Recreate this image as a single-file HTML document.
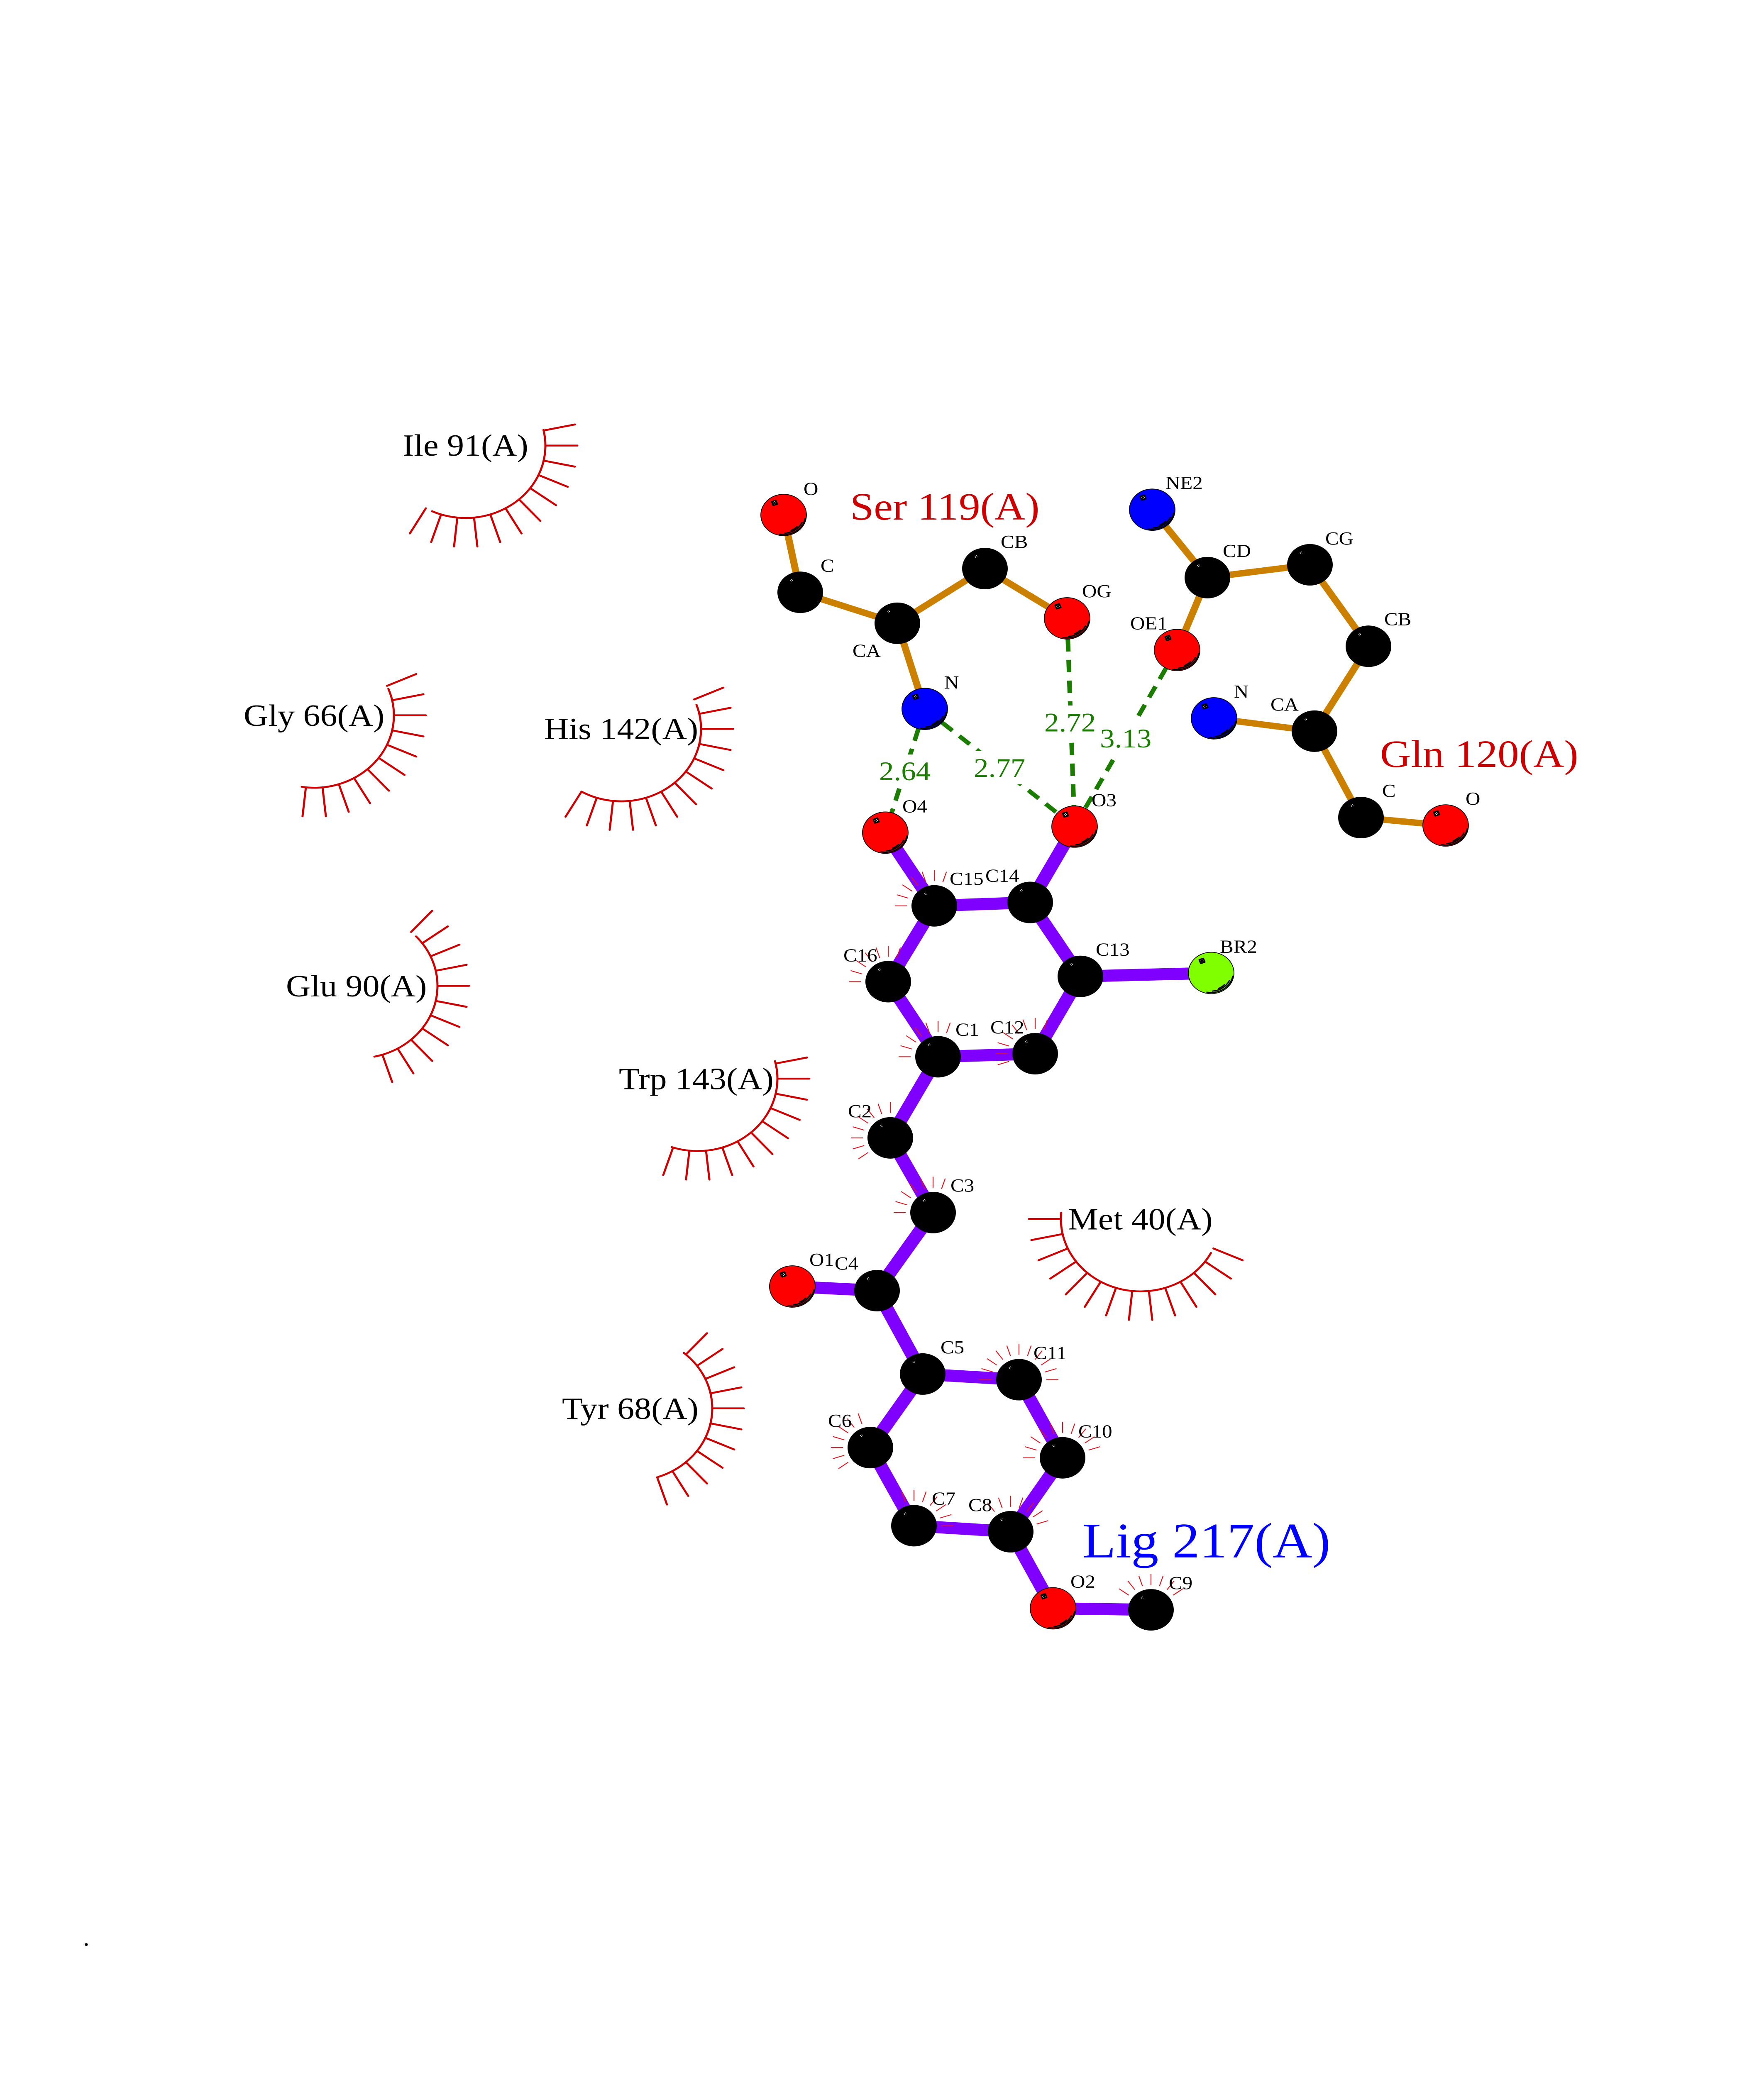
<!DOCTYPE html>
<html><head><meta charset="utf-8"><title>Ligand interaction diagram</title>
<style>
html,body{margin:0;padding:0;background:#fff;width:100%;height:100%;overflow:hidden}
svg{display:block;position:absolute;left:0;top:0;width:100%;height:100%}
text{font-family:"Liberation Serif",serif}
.l{font-size:49px;fill:#000}
.b{font-size:82px;fill:#000}
.r{font-size:103px;fill:#c00}
.g{font-size:71px;fill:#1a7d00}
.h path{stroke:#c00;stroke-width:5;stroke-linecap:round;fill:none}
.h circle{stroke:#c00;stroke-width:5;stroke-linecap:round;fill:none}
.s path{stroke:#e0141e;stroke-width:2.2;fill:none}
.o line{stroke:#cc8000;stroke-width:17}
.p line{stroke:#8000ff;stroke-width:32}
.d line{stroke:#1a7d00;stroke-width:11;stroke-dasharray:33 22}
</style></head>
<body>
<svg xmlns="http://www.w3.org/2000/svg" viewBox="0 0 4250 5500" preserveAspectRatio="none">
<defs>
<g id="hl"><rect x="-7" y="-7" width="14" height="14" rx="2" fill="#000" transform="translate(-22,-32) rotate(-20)"/>
<circle cx="-25" cy="-32" r="1" fill="#fff"/><circle cx="-22" cy="-35" r="1" fill="#fff"/><circle cx="-19" cy="-32" r="1" fill="#fff"/><circle cx="-22" cy="-29" r="1" fill="#fff"/>
<path d="M52 9A52.8 52.8 0 0 1 -10 51M44 20A48.5 48.5 0 0 1 3 48M32 31A45 45 0 0 1 18 41" fill="none" stroke="#000" stroke-width="3.2" stroke-linecap="round"/></g>
<g id="ar"><circle r="55" fill="#f00" stroke="#000" stroke-width="1.8"/><use href="#hl"/></g>
<g id="ab"><circle r="55" fill="#00f" stroke="#000" stroke-width="1.8"/><use href="#hl"/></g>
<g id="ag"><circle r="55" fill="#80ff00" stroke="#000" stroke-width="1.8"/><use href="#hl"/></g>
<g id="ak"><circle r="55" fill="#000"/><circle cx="-23.500" cy="-32" r="1" fill="#fff"/><circle cx="-20.500" cy="-34" r="1" fill="#fff"/><circle cx="-19" cy="-31" r="1" fill="#fff"/><circle cx="-22" cy="-29.500" r="1" fill="#fff"/></g>
</defs>
<rect width="4250" height="5500" fill="#fff"/>

<!-- hydrophobic contacts -->
<g class="h">
<g transform="translate(1122,1181)"><circle r="192" pathLength="360" stroke-dasharray="127.500 360" transform="rotate(-12.500)"/>
<path d="M192 0H269" transform="rotate(-12)"/><path d="M192 0H269"/><path d="M192 0H269" transform="rotate(12)"/><path d="M192 0H269" transform="rotate(24)"/><path d="M192 0H269" transform="rotate(36)"/><path d="M192 0H269" transform="rotate(48)"/><path d="M192 0H269" transform="rotate(60)"/><path d="M192 0H269" transform="rotate(72)"/><path d="M192 0H269" transform="rotate(84)"/><path d="M192 0H269" transform="rotate(96)"/><path d="M192 0H269" transform="rotate(108)"/><path d="M192 0H269" transform="rotate(120)"/></g>

<g transform="translate(757,1896)"><circle r="192" pathLength="360" stroke-dasharray="120.500 360" transform="rotate(-21.500)"/>
<path d="M192 0H269" transform="rotate(-24)"/><path d="M192 0H269" transform="rotate(-12)"/><path d="M192 0H269"/><path d="M192 0H269" transform="rotate(12)"/><path d="M192 0H269" transform="rotate(24)"/><path d="M192 0H269" transform="rotate(36)"/><path d="M192 0H269" transform="rotate(48)"/><path d="M192 0H269" transform="rotate(60)"/><path d="M192 0H269" transform="rotate(72)"/><path d="M192 0H269" transform="rotate(84)"/><path d="M192 0H269" transform="rotate(96)"/></g>

<g transform="translate(1497,1932)"><circle r="192" pathLength="360" stroke-dasharray="139.500 360" transform="rotate(-19.500)"/>
<path d="M192 0H269" transform="rotate(-24)"/><path d="M192 0H269" transform="rotate(-12)"/><path d="M192 0H269"/><path d="M192 0H269" transform="rotate(12)"/><path d="M192 0H269" transform="rotate(24)"/><path d="M192 0H269" transform="rotate(36)"/><path d="M192 0H269" transform="rotate(48)"/><path d="M192 0H269" transform="rotate(60)"/><path d="M192 0H269" transform="rotate(72)"/><path d="M192 0H269" transform="rotate(84)"/><path d="M192 0H269" transform="rotate(96)"/><path d="M192 0H269" transform="rotate(108)"/><path d="M192 0H269" transform="rotate(120)"/></g>

<g transform="translate(862,2613)"><circle r="192" pathLength="360" stroke-dasharray="121 360" transform="rotate(-43)"/>
<path d="M192 0H268" transform="rotate(-48)"/><path d="M192 0H268" transform="rotate(-36)"/><path d="M192 0H268" transform="rotate(-24)"/><path d="M192 0H268" transform="rotate(-12)"/><path d="M192 0H268"/><path d="M192 0H268" transform="rotate(12)"/><path d="M192 0H268" transform="rotate(24)"/><path d="M192 0H268" transform="rotate(36)"/><path d="M192 0H268" transform="rotate(48)"/><path d="M192 0H268" transform="rotate(60)"/><path d="M192 0H268" transform="rotate(72)"/></g>

<g transform="translate(1681,2859)"><circle r="192" pathLength="360" stroke-dasharray="123 360" transform="rotate(-14)"/>
<path d="M192 0H269" transform="rotate(-12)"/><path d="M192 0H269"/><path d="M192 0H269" transform="rotate(12)"/><path d="M192 0H269" transform="rotate(24)"/><path d="M192 0H269" transform="rotate(36)"/><path d="M192 0H269" transform="rotate(48)"/><path d="M192 0H269" transform="rotate(60)"/><path d="M192 0H269" transform="rotate(72)"/><path d="M192 0H269" transform="rotate(84)"/><path d="M192 0H269" transform="rotate(96)"/><path d="M192 0H269" transform="rotate(108)"/></g>

<g transform="translate(2748,3231)"><circle r="192" pathLength="360" stroke-dasharray="157 360" transform="rotate(28)"/>
<path d="M192 0H269" transform="rotate(24)"/><path d="M192 0H269" transform="rotate(36)"/><path d="M192 0H269" transform="rotate(48)"/><path d="M192 0H269" transform="rotate(60)"/><path d="M192 0H269" transform="rotate(72)"/><path d="M192 0H269" transform="rotate(84)"/><path d="M192 0H269" transform="rotate(96)"/><path d="M192 0H269" transform="rotate(108)"/><path d="M192 0H269" transform="rotate(120)"/><path d="M192 0H269" transform="rotate(132)"/><path d="M192 0H269" transform="rotate(144)"/><path d="M192 0H269" transform="rotate(156)"/><path d="M192 0H269" transform="rotate(168)"/><path d="M192 0H269" transform="rotate(180)"/></g>

<g transform="translate(1524,3733)"><circle r="192" pathLength="360" stroke-dasharray="121 360" transform="rotate(-50)"/>
<path d="M192 0H268" transform="rotate(-48)"/><path d="M192 0H268" transform="rotate(-36)"/><path d="M192 0H268" transform="rotate(-24)"/><path d="M192 0H268" transform="rotate(-12)"/><path d="M192 0H268"/><path d="M192 0H268" transform="rotate(12)"/><path d="M192 0H268" transform="rotate(24)"/><path d="M192 0H268" transform="rotate(36)"/><path d="M192 0H268" transform="rotate(48)"/><path d="M192 0H268" transform="rotate(60)"/><path d="M192 0H268" transform="rotate(72)"/></g>
</g>

<!-- hydrogen bonds -->
<g class="d">
<line x1="2228" y1="1879" x2="2133" y2="2207"/>
<line x1="2228" y1="1879" x2="2589" y2="2191"/>
<line x1="2571" y1="1639" x2="2589" y2="2191"/>
<line x1="2835" y1="1722" x2="2589" y2="2191"/>
</g>
<g fill="#fff">
<rect x="2116" y="2000" width="128" height="88"/>
<rect x="2344" y="1991" width="127" height="88"/>
<rect x="2514" y="1870" width="129" height="98"/>
<rect x="2648" y="1911" width="125" height="92"/>
</g>

<!-- residue bonds -->
<g class="o">
<line x1="1888" y1="1365" x2="1928" y2="1570"/>
<line x1="1928" y1="1570" x2="2162" y2="1652"/>
<line x1="2162" y1="1652" x2="2373" y2="1507"/>
<line x1="2373" y1="1507" x2="2571" y2="1639"/>
<line x1="2162" y1="1652" x2="2228" y2="1879"/>
<line x1="2776" y1="1351" x2="2909" y2="1531"/>
<line x1="2909" y1="1531" x2="3156" y2="1497"/>
<line x1="3156" y1="1497" x2="3297" y2="1713"/>
<line x1="3297" y1="1713" x2="3167" y2="1938"/>
<line x1="3167" y1="1938" x2="2925" y2="1904"/>
<line x1="3167" y1="1938" x2="3279" y2="2167"/>
<line x1="3279" y1="2167" x2="3483" y2="2188"/>
<line x1="2909" y1="1531" x2="2836" y2="1723"/>
</g>

<!-- ligand bonds -->
<g class="p">
<line x1="2133" y1="2207" x2="2251" y2="2401"/>
<line x1="2251" y1="2401" x2="2482" y2="2392"/>
<line x1="2482" y1="2392" x2="2589" y2="2191"/>
<line x1="2482" y1="2392" x2="2603" y2="2588"/>
<line x1="2603" y1="2588" x2="2918" y2="2579"/>
<line x1="2603" y1="2588" x2="2494" y2="2793"/>
<line x1="2494" y1="2793" x2="2260" y2="2801"/>
<line x1="2260" y1="2801" x2="2140" y2="2602"/>
<line x1="2140" y1="2602" x2="2251" y2="2401"/>
<line x1="2260" y1="2801" x2="2145" y2="3016"/>
<line x1="2145" y1="3016" x2="2248" y2="3214"/>
<line x1="2248" y1="3214" x2="2113" y2="3421"/>
<line x1="2113" y1="3421" x2="1909" y2="3410"/>
<line x1="2113" y1="3421" x2="2223" y2="3642"/>
<line x1="2223" y1="3642" x2="2455" y2="3657"/>
<line x1="2455" y1="3657" x2="2560" y2="3864"/>
<line x1="2560" y1="3864" x2="2435" y2="4060"/>
<line x1="2435" y1="4060" x2="2202" y2="4044"/>
<line x1="2202" y1="4044" x2="2097" y2="3837"/>
<line x1="2097" y1="3837" x2="2223" y2="3642"/>
<line x1="2435" y1="4060" x2="2537" y2="4263"/>
<line x1="2537" y1="4263" x2="2773" y2="4267"/>
</g>

<!-- ligand atom contact ticks -->
<g class="s">
<g transform="translate(2251,2401)"><path d="M66 0H95" transform="rotate(-72)"/><path d="M66 0H95" transform="rotate(-90)"/><path d="M66 0H95" transform="rotate(-108)"/><path d="M66 0H95" transform="rotate(-126)"/><path d="M66 0H95" transform="rotate(-144)"/><path d="M66 0H95" transform="rotate(-162)"/><path d="M66 0H95" transform="rotate(-180)"/></g>
<g transform="translate(2140,2602)"><path d="M66 0H95" transform="rotate(-72)"/><path d="M66 0H95" transform="rotate(-90)"/><path d="M66 0H95" transform="rotate(-108)"/><path d="M66 0H95" transform="rotate(-126)"/><path d="M66 0H95" transform="rotate(-144)"/><path d="M66 0H95" transform="rotate(-162)"/><path d="M66 0H95" transform="rotate(-180)"/></g>
<g transform="translate(2260,2801)"><path d="M66 0H95" transform="rotate(-72)"/><path d="M66 0H95" transform="rotate(-90)"/><path d="M66 0H95" transform="rotate(-108)"/><path d="M66 0H95" transform="rotate(-126)"/><path d="M66 0H95" transform="rotate(-144)"/><path d="M66 0H95" transform="rotate(-162)"/><path d="M66 0H95" transform="rotate(-180)"/></g>
<g transform="translate(2494,2793)"><path d="M66 0H95" transform="rotate(-72)"/><path d="M66 0H95" transform="rotate(-90)"/><path d="M66 0H95" transform="rotate(-108)"/><path d="M66 0H95" transform="rotate(-126)"/><path d="M66 0H95" transform="rotate(-144)"/><path d="M66 0H95" transform="rotate(-162)"/><path d="M66 0H95" transform="rotate(-180)"/><path d="M66 0H95" transform="rotate(-198)"/></g>
<g transform="translate(2145,3016)"><path d="M66 0H95" transform="rotate(-90)"/><path d="M66 0H95" transform="rotate(-108)"/><path d="M66 0H95" transform="rotate(-126)"/><path d="M66 0H95" transform="rotate(-144)"/><path d="M66 0H95" transform="rotate(-162)"/><path d="M66 0H95" transform="rotate(-180)"/><path d="M66 0H95" transform="rotate(-198)"/><path d="M66 0H95" transform="rotate(-216)"/></g>
<g transform="translate(2248,3214)"><path d="M66 0H95" transform="rotate(-72)"/><path d="M66 0H95" transform="rotate(-90)"/><path d="M66 0H95" transform="rotate(-108)"/><path d="M66 0H95" transform="rotate(-126)"/><path d="M66 0H95" transform="rotate(-144)"/><path d="M66 0H95" transform="rotate(-162)"/><path d="M66 0H95" transform="rotate(-180)"/></g>
<g transform="translate(2455,3657)"><path d="M66 0H95"/><path d="M66 0H95" transform="rotate(-18)"/><path d="M66 0H95" transform="rotate(-36)"/><path d="M66 0H95" transform="rotate(-54)"/><path d="M66 0H95" transform="rotate(-72)"/><path d="M66 0H95" transform="rotate(-90)"/><path d="M66 0H95" transform="rotate(-108)"/><path d="M66 0H95" transform="rotate(-126)"/><path d="M66 0H95" transform="rotate(-144)"/><path d="M66 0H95" transform="rotate(-162)"/><path d="M66 0H95" transform="rotate(-180)"/></g>
<g transform="translate(2560,3864)"><path d="M66 0H95" transform="rotate(-18)"/><path d="M66 0H95" transform="rotate(-36)"/><path d="M66 0H95" transform="rotate(-54)"/><path d="M66 0H95" transform="rotate(-72)"/><path d="M66 0H95" transform="rotate(-90)"/><path d="M66 0H95" transform="rotate(-108)"/><path d="M66 0H95" transform="rotate(-126)"/><path d="M66 0H95" transform="rotate(-144)"/><path d="M66 0H95" transform="rotate(-162)"/><path d="M66 0H95" transform="rotate(-180)"/></g>
<g transform="translate(2097,3837)"><path d="M66 0H95" transform="rotate(-108)"/><path d="M66 0H95" transform="rotate(-126)"/><path d="M66 0H95" transform="rotate(-144)"/><path d="M66 0H95" transform="rotate(-162)"/><path d="M66 0H95" transform="rotate(-180)"/><path d="M66 0H95" transform="rotate(-198)"/><path d="M66 0H95" transform="rotate(-216)"/></g>
<g transform="translate(2202,4044)"><path d="M66 0H95"/><path d="M66 0H95" transform="rotate(-18)"/><path d="M66 0H95" transform="rotate(-36)"/><path d="M66 0H95" transform="rotate(-54)"/><path d="M66 0H95" transform="rotate(-72)"/><path d="M66 0H95" transform="rotate(-90)"/><path d="M66 0H95" transform="rotate(-108)"/></g>
<g transform="translate(2435,4060)"><path d="M66 0H95" transform="rotate(-18)"/><path d="M66 0H95" transform="rotate(-36)"/><path d="M66 0H95" transform="rotate(-54)"/><path d="M66 0H95" transform="rotate(-72)"/><path d="M66 0H95" transform="rotate(-90)"/><path d="M66 0H95" transform="rotate(-108)"/><path d="M66 0H95" transform="rotate(-126)"/></g>
<g transform="translate(2773,4267)"><path d="M66 0H95" transform="rotate(-36)"/><path d="M66 0H95" transform="rotate(-54)"/><path d="M66 0H95" transform="rotate(-72)"/><path d="M66 0H95" transform="rotate(-90)"/><path d="M66 0H95" transform="rotate(-108)"/><path d="M66 0H95" transform="rotate(-126)"/><path d="M66 0H95" transform="rotate(-144)"/></g>
</g>

<!-- atoms -->
<use href="#ar" x="1888" y="1365"/>
<use href="#ak" x="1928" y="1570"/>
<use href="#ak" x="2162" y="1652"/>
<use href="#ak" x="2373" y="1507"/>
<use href="#ar" x="2571" y="1639"/>
<use href="#ab" x="2228" y="1879"/>
<use href="#ab" x="2776" y="1351"/>
<use href="#ak" x="2909" y="1531"/>
<use href="#ak" x="3156" y="1497"/>
<use href="#ak" x="3297" y="1713"/>
<use href="#ar" x="2836" y="1723"/>
<use href="#ab" x="2925" y="1904"/>
<use href="#ak" x="3167" y="1938"/>
<use href="#ak" x="3279" y="2167"/>
<use href="#ar" x="3483" y="2188"/>
<use href="#ar" x="2133" y="2207"/>
<use href="#ar" x="2589" y="2191"/>
<use href="#ak" x="2251" y="2401"/>
<use href="#ak" x="2482" y="2392"/>
<use href="#ak" x="2603" y="2588"/>
<use href="#ag" x="2918" y="2579"/>
<use href="#ak" x="2140" y="2602"/>
<use href="#ak" x="2260" y="2801"/>
<use href="#ak" x="2494" y="2793"/>
<use href="#ak" x="2145" y="3016"/>
<use href="#ak" x="2248" y="3214"/>
<use href="#ar" x="1909" y="3410"/>
<use href="#ak" x="2113" y="3421"/>
<use href="#ak" x="2223" y="3642"/>
<use href="#ak" x="2455" y="3657"/>
<use href="#ak" x="2560" y="3864"/>
<use href="#ak" x="2097" y="3837"/>
<use href="#ak" x="2202" y="4044"/>
<use href="#ak" x="2435" y="4060"/>
<use href="#ar" x="2537" y="4263"/>
<use href="#ak" x="2773" y="4267"/>

<!-- atom labels -->
<text class="l" x="1936" y="1312">O</text>
<text class="l" x="1977" y="1515">C</text>
<text class="l" x="2054" y="1741">CA</text>
<text class="l" x="2411" y="1452">CB</text>
<text class="l" x="2607" y="1583">OG</text>
<text class="l" x="2275" y="1825">N</text>
<text class="l" x="2808" y="1296">NE2</text>
<text class="l" x="2946" y="1476">CD</text>
<text class="l" x="3193" y="1443">CG</text>
<text class="l" x="3335" y="1657">CB</text>
<text class="l" x="2723" y="1668">OE1</text>
<text class="l" x="2973" y="1849">N</text>
<text class="l" x="3061" y="1883">CA</text>
<text class="l" x="3330" y="2112">C</text>
<text class="l" x="3531" y="2133">O</text>
<text class="l" x="2630" y="2137">O3</text>
<text class="l" x="2174" y="2153">O4</text>
<text class="l" x="2288" y="2345">C15</text>
<text class="l" x="2374" y="2337">C14</text>
<text class="l" x="2032" y="2548">C16</text>
<text class="l" x="2640" y="2533">C13</text>
<text class="l" x="2939" y="2525">BR2</text>
<text class="l" x="2302" y="2745">C1</text>
<text class="l" x="2386" y="2739">C12</text>
<text class="l" x="2043" y="2961">C2</text>
<text class="l" x="2290" y="3158">C3</text>
<text class="l" x="1950" y="3355">O1</text>
<text class="l" x="2011" y="3365">C4</text>
<text class="l" x="2266" y="3587">C5</text>
<text class="l" x="2490" y="3602">C11</text>
<text class="l" x="2598" y="3810">C10</text>
<text class="l" x="1995" y="3782">C6</text>
<text class="l" x="2245" y="3988">C7</text>
<text class="l" x="2333" y="4005">C8</text>
<text class="l" x="2579" y="4208">O2</text>
<text class="l" x="2816" y="4212">C9</text>

<!-- H-bond distances -->
<text class="g" x="2118" y="2068">2.64</text>
<text class="g" x="2346" y="2059">2.77</text>
<text class="g" x="2516" y="1939">2.72</text>
<text class="g" x="2650" y="1981">3.13</text>

<!-- residue labels -->
<text class="r" x="2048" y="1377">Ser 119(A)</text>
<text class="r" x="3325" y="2033">Gln 120(A)</text>
<text x="2608" y="4128" style="font-size:132px;fill:#00f">Lig 217(A)</text>
<text class="b" x="970" y="1208">Ile 91(A)</text>
<text class="b" x="587" y="1924">Gly 66(A)</text>
<text class="b" x="1311" y="1959">His 142(A)</text>
<text class="b" x="689" y="2641">Glu 90(A)</text>
<text class="b" x="1491" y="2887">Trp 143(A)</text>
<text class="b" x="2573" y="3259">Met 40(A)</text>
<text class="b" x="1354" y="3761">Tyr 68(A)</text>
<text x="200" y="5157" style="font-size:63px;fill:#000">.</text>
</svg>
</body></html>
